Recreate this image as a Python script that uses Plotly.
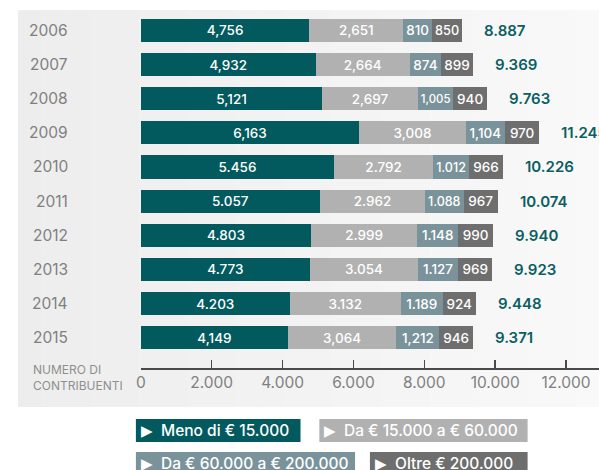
import plotly.graph_objects as go

years = ["2006", "2007", "2008", "2009", "2010", "2011", "2012", "2013", "2014", "2015"]
meno_15k = [4756, 4932, 5121, 6163, 5456, 5057, 4803, 4773, 4203, 4149]
da_15k_60k = [2651, 2664, 2697, 3008, 2792, 2962, 2999, 3054, 3132, 3064]
da_60k_200k = [810, 874, 1005, 1104, 1012, 1088, 1148, 1127, 1189, 1212]
oltre_200k = [850, 899, 940, 970, 966, 967, 990, 969, 924, 946]
totals = [8887, 9369, 9763, 11245, 10226, 10074, 9940, 9923, 9448, 9371]
label_sep = [",", ",", ",", ",", ".", ".", ".", ".", ".", ","]
tick_vals = [0, 2000, 4000, 6000, 8000, 10000, 12000]

series_names = ["Meno di € 15.000", "Da € 15.000 a € 60.000",
                "Da € 60.000 a € 200.000", "Oltre € 200.000"]
series_vals = [meno_15k, da_15k_60k, da_60k_200k, oltre_200k]
colors = ["#025a5e", "#b1b1b1", "#7a939a", "#6e6e6e"]

W, H = 599, 470
FONT = "Inter"

def fmt(v, sep):
    return f"{v:,}".replace(",", sep)

pos = list(range(len(years)))
fig = go.Figure()
for name, vals, col in zip(series_names, series_vals, colors):
    fig.add_trace(go.Bar(
        y=pos, x=vals, orientation="h", name=name, width=0.675,
        marker=dict(color=col, line=dict(width=0)),
        text=[fmt(v, s) for v, s in zip(vals, label_sep)],
        textposition="inside", insidetextanchor="middle", textangle=0,
        textfont=dict(color="white", size=13.5, family=FONT, weight=500),
        hoverinfo="skip",
    ))

def px_x(p):
    return p / W

def px_y(p):
    return 1 - p / H

shapes = []
# panel background with slight horizontal gradient
n = 24
x0, x1 = 13, 600
for i in range(n):
    a = x0 + (x1 - x0) * i / n
    b = x0 + (x1 - x0) * (i + 1) / n + 0.5
    t = i / (n - 1)
    c = int(round(237 + (249 - 237) * t))
    shapes.append(dict(type="rect", xref="paper", yref="paper", layer="below",
                       x0=px_x(a), x1=px_x(b), y0=px_y(407), y1=px_y(10),
                       fillcolor=f"rgb({c},{c},{c})", line=dict(width=0)))

annotations = []
for i, y in enumerate(years):
    annotations.append(dict(xref="paper", yref="y", x=px_x(66), y=i, text=y,
                            xanchor="right", yanchor="middle", showarrow=False,
                            font=dict(family=FONT, size=15.5, color="#808080")))
sums = [a + b + c + d for a, b, c, d in zip(*series_vals)]
for i, (s, t) in enumerate(zip(sums, totals)):
    annotations.append(dict(xref="x", yref="y", x=s, y=i, xshift=20,
                            text=fmt(t, '.'), xanchor="left",
                            yanchor="middle", showarrow=False,
                            font=dict(family=FONT, size=15, color="#0b5e62",
                                      weight=600)))
annotations.append(dict(xref="paper", yref="paper", x=px_x(26), y=px_y(377),
                        text="NUMERO DI<br>CONTRIBUENTI", xanchor="left",
                        yanchor="middle", align="left", showarrow=False,
                        font=dict(family=FONT, size=12, color="#8e8e8e")))

# legend boxes
boxes = [(132, 298, 419, 442), (317, 527, 419, 442),
         (132, 353, 452, 475), (368, 527, 452, 475)]
for (bx0, bx1, by0, by1), name, col in zip(boxes, series_names, colors):
    shapes.append(dict(type="rect", xref="paper", yref="paper",
                       x0=px_x(bx0), x1=px_x(bx1), y0=px_y(by1), y1=px_y(by0),
                       fillcolor=col, line=dict(width=0)))
    cy = (by0 + by1) / 2
    annotations.append(dict(xref="paper", yref="paper", x=px_x(bx0 + 3), y=px_y(cy),
                            text="▶", xanchor="left", yanchor="middle",
                            showarrow=False,
                            font=dict(family="DejaVu Sans", size=15, color="white")))
    annotations.append(dict(xref="paper", yref="paper", x=px_x(bx0 + 23), y=px_y(cy),
                            text=name, xanchor="left", yanchor="middle",
                            showarrow=False,
                            font=dict(family=FONT, size=15.5, color="white",
                                      weight=500)))

fig.update_layout(
    width=W, height=H, barmode="stack", showlegend=False,
    margin=dict(l=0, r=0, t=0, b=0),
    paper_bgcolor="white", plot_bgcolor="rgba(0,0,0,0)",
    separators=",.", hovermode=False,
    xaxis=dict(domain=[px_x(137), 1], range=[0, 12930], tickvals=tick_vals,
               tickformat=",d", showgrid=False, zeroline=False,
               showline=True, linecolor="#4a4a4a", linewidth=1.5,
               ticks="inside", ticklen=8, tickcolor="#4a4a4a", tickwidth=1.5,
               tickfont=dict(family=FONT, size=15.5, color="#808080"),
               fixedrange=True),
    yaxis=dict(domain=[px_y(368), px_y(10)], range=[9.89, -0.6],
               showticklabels=False, showgrid=False, zeroline=False,
               showline=False, ticks="", fixedrange=True),
    shapes=shapes, annotations=annotations,
)

fig.write_html("out.html", config={"displayModeBar": False, "staticPlot": True},
               post_script="document.body.style.margin='0';document.body.style.overflow='hidden';")
